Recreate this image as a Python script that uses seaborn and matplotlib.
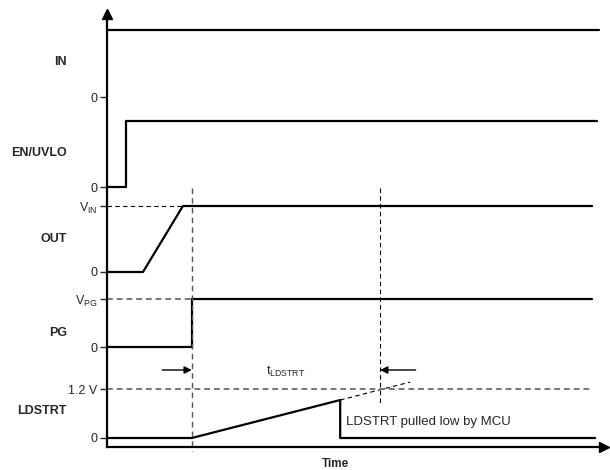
import numpy as np
import pandas as pd
import matplotlib
matplotlib.use("Agg")
import matplotlib.pyplot as plt
import seaborn as sns

# waveforms: time in arbitrary units, levels normalised (0/1) or in volts for LDSTRT
signals = ["IN", "EN/UVLO", "OUT", "PG", "LDSTRT"]
t_in = [0, 9.98]
in_level = [1, 1]
t_en = [0, 0.39, 0.39, 9.94]
en_level = [0, 0, 1, 1]
t_out = [0, 0.73, 1.54, 9.84]
out_level = [0, 0, 1, 1]
t_pg = [0, 1.72, 1.72, 9.84]
pg_level = [0, 0, 1, 1]
t_ld = [0, 1.72, 4.73, 4.73, 9.90]
ld_volts = [0, 0, 0.93, 0, 0]
t_ld_ext = [4.73, 6.15]          # dashed continuation of ramp
ld_ext_volts = [0.93, 1.37]
ldstrt_th = 1.2                  # V
t_ldstrt = [1.72, 5.54]          # tLDSTRT window
t_mcu = 4.73                     # MCU pulls LDSTRT low
t_end = 9.84

# layout (figure pixels)
X0, PX_T = 107, 49.3
base = {"IN": 97, "EN/UVLO": 187, "OUT": 272, "PG": 347, "LDSTRT": 438}
gain = {"IN": 67, "EN/UVLO": 66, "OUT": 66, "PG": 48, "LDSTRT": 49 / 1.2}
label_y = {"IN": 62, "EN/UVLO": 153, "OUT": 239, "PG": 333, "LDSTRT": 411}


def ypx(sig, v):
    return base[sig] - np.asarray(v, dtype=float) * gain[sig]


sns.set_theme(style="white")
plt.rcParams["font.family"] = ["Liberation Sans", "DejaVu Sans"]
plt.rcParams["mathtext.fontset"] = "custom"
plt.rcParams["mathtext.rm"] = "Liberation Sans"

fig = plt.figure(figsize=(6.1, 4.7), dpi=100)
ax = fig.add_axes([0, 0, 1, 1])
ax.set_xlim(-X0 / PX_T, (610 - X0) / PX_T)
ax.set_ylim(470, 0)

waves = {"IN": (t_in, in_level), "EN/UVLO": (t_en, en_level), "OUT": (t_out, out_level),
         "PG": (t_pg, pg_level), "LDSTRT": (t_ld, ld_volts)}
frames = []
for s in signals:
    t, v = waves[s]
    frames.append(pd.DataFrame({"t": t, "y": ypx(s, v), "signal": s}))
df = pd.concat(frames, ignore_index=True)

sns.lineplot(data=df, x="t", y="y", units="signal", estimator=None, sort=False,
             color="black", lw=1.6, ax=ax, legend=False)

# dashed continuation of LDSTRT ramp
ax.plot(t_ld_ext, ypx("LDSTRT", ld_ext_volts), color="black", lw=0.8, dashes=(4, 3))

# reference levels
ax.plot([0, t_out[2]], ypx("OUT", [1, 1]), color="black", lw=0.8, dashes=(4, 3))
ax.plot([0, t_pg[1]], ypx("PG", [1, 1]), color="#777777", lw=1.4, dashes=(3, 2))
ax.plot([0, t_end], ypx("LDSTRT", [ldstrt_th] * 2), color="#777777", lw=1.4, dashes=(3, 2))

# vertical markers
ax.plot([t_ldstrt[0]] * 2, [188, 451], color="#555555", lw=1.0, dashes=(4, 3), clip_on=False)
ax.plot([t_ldstrt[1]] * 2, [188, 403], color="black", lw=0.8, dashes=(4, 3))

# tLDSTRT arrows
arr = dict(arrowstyle="-|>", color="black", lw=1.0, mutation_scale=11, shrinkA=0, shrinkB=0)
ax.annotate("", xy=(t_ldstrt[0], 370), xytext=(t_ldstrt[0] - 0.6, 370), arrowprops=arr)
ax.annotate("", xy=(t_ldstrt[1], 370), xytext=(t_ldstrt[1] + 0.72, 370), arrowprops=arr)
ax.text(sum(t_ldstrt) / 2, 371, r"$\mathregular{t_{LDSTRT}}$", ha="center", va="center", fontsize=9)
ax.text(t_mcu + 0.12, 422, "LDSTRT pulled low by MCU", ha="left", va="center", fontsize=9.5)

# lane labels
for s in signals:
    ax.text((67 - X0) / PX_T, label_y[s], s, ha="right", va="center", fontsize=9, fontweight="bold")

ax.text((336 - X0) / PX_T, 464, "Time", ha="center", va="center", fontsize=8.5, fontweight="bold")

# axes with arrows
for side in ["top", "right"]:
    ax.spines[side].set_visible(False)
ax.spines["left"].set_position(("data", 0))
ax.spines["bottom"].set_position(("data", 447))
ax.spines["left"].set_bounds(14, 447)
ax.spines["bottom"].set_bounds(0, (603 - X0) / PX_T)
for sp in ["left", "bottom"]:
    ax.spines[sp].set_linewidth(1.6)
    ax.spines[sp].set_color("black")
ax.plot(0, 14, marker="^", color="black", ms=7, clip_on=False)
ax.plot((604 - X0) / PX_T, 447, marker=">", color="black", ms=7, clip_on=False)

yticks = [base["IN"], base["EN/UVLO"], ypx("OUT", 1), base["OUT"], ypx("PG", 1), base["PG"],
          ypx("LDSTRT", ldstrt_th), base["LDSTRT"]]
ylabels = ["0", "0", r"$\mathregular{V_{IN}}$", "0", r"$\mathregular{V_{PG}}$", "0", "1.2 V", "0"]
ax.set_yticks(yticks, ylabels)
ax.set_xticks([])
ax.tick_params(axis="y", length=5, width=1, direction="out", labelsize=9, pad=2, left=True)
ax.set_xlabel("")
ax.set_ylabel("")

fig.savefig("out.png", dpi=100)
